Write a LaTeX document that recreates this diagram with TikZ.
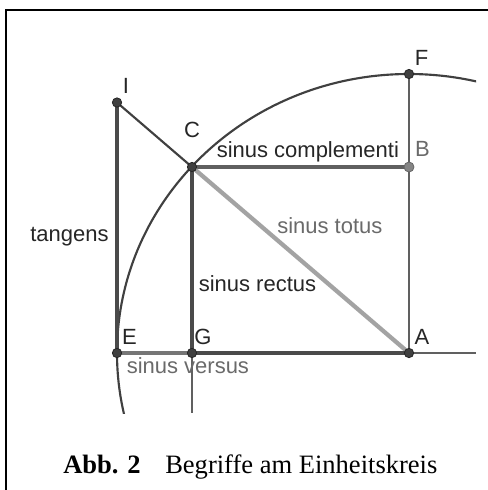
\documentclass[tikz,border=0pt]{standalone}
\usepackage{fontspec}
\setmainfont{Liberation Serif}
\newfontfamily\labfont{Liberation Sans}
\definecolor{arcc}{HTML}{404040}
\definecolor{darkseg}{HTML}{4A4A4A}
\definecolor{midseg}{HTML}{606060}
\definecolor{verseg}{HTML}{767676}
\definecolor{totseg}{HTML}{A3A3A3}
\definecolor{labc}{HTML}{262626}
\definecolor{labg}{HTML}{6A6A6A}
\definecolor{dotc}{HTML}{404040}
\definecolor{dotb}{HTML}{858585}
\begin{document}
\begin{tikzpicture}[x=0.75pt,y=-0.75pt,
  thinline/.style={draw=midseg, line width=1.6pt},
  arcline/.style={draw=arcc, line width=1.6pt},
  thickline/.style={line width=3.2pt},
  dotnode/.style={circle, fill=dotc, draw=black!85, line width=0.6pt, minimum size=7pt, inner sep=0pt},
  dotgray/.style={circle, fill=dotb, draw=black!60, line width=0.6pt, minimum size=7.5pt, inner sep=0pt},
  lab/.style={inner sep=0pt, font=\labfont\fontsize{16.5}{19}\selectfont, text=labc},
  labgray/.style={lab, text=labg},
  capt/.style={inner sep=0pt, font=\fontsize{19.9}{23}\selectfont, text=black}]
\useasboundingbox (0,0) rectangle (488,490);
% frame
\coordinate (FrBL) at (6,490);
\coordinate (FrTL) at (6,10);
\coordinate (FrTR) at (488,10);
\draw[line width=1.5pt, black] (FrBL) -- (FrTL) -- (FrTR);
% points
\coordinate (A) at (409,353);
\coordinate (E) at (117,353);
\coordinate (G) at (192,353);
\coordinate (C) at (192,167);
\coordinate (B) at (409,167);
\coordinate (F) at (409,74);
\coordinate (I) at (117,102.5);
\coordinate (Aright) at (476,353);
\coordinate (Gdown) at (192,413);
% arc (clipped)
\begin{scope}
  \clip (0,0) rectangle (476,413);
  \draw[arcline] (A) ellipse [x radius=292, y radius=279];
\end{scope}
% thin lines
\draw[thinline] (A) -- (F);
\draw[thinline] (A) -- (Aright);
\draw[thinline] (G) -- (Gdown);
\draw[arcline] (I) -- (C);
% thick segments
\draw[thickline, draw=verseg] (E) -- (G);
\draw[thickline, draw=midseg] (C) -- (B);
\draw[thickline, draw=totseg] (C) -- (A);
\draw[thickline, draw=darkseg] (E) -- (I);
\draw[thickline, draw=darkseg] (C) -- (G);
\draw[thickline, draw=darkseg] (G) -- (A);
% dots
\node[dotnode] (dA) at (A) {};
\node[dotnode] (dE) at (E) {};
\node[dotnode] (dG) at (G) {};
\node[dotnode] (dC) at (C) {};
\node[dotnode] (dF) at (F) {};
\node[dotnode] (dI) at (I) {};
\node[dotgray] (dB) at (B) {};
% point labels
\node[lab, anchor=base] (lI) at (126,93) {I};
\node[lab, anchor=base] (lC) at (192,137.5) {C};
\node[lab, anchor=base] (lF) at (421.5,65) {F};
\node[labgray, anchor=base] (lB) at (422.5,156) {B};
\node[lab, anchor=base] (lE) at (129.5,344) {E};
\node[lab, anchor=base] (lG) at (203,344) {G};
\node[lab, anchor=base] (lA) at (422,344) {A};
% segment labels
\node[lab, anchor=base west] (ltan) at (30,241) {tangens};
\node[lab, anchor=base west] (lcompl) at (216.5,157) {sinus complementi};
\node[labgray, anchor=base west] (ltot) at (277,233) {sinus totus};
\node[lab, anchor=base west] (lrect) at (198.5,291) {sinus rectus};
\node[labgray, anchor=base west] (lvers) at (126.5,373) {sinus versus};
% caption
\node[capt, anchor=base west] (cap1) at (63,473) {\textbf{Abb. 2}};
\node[capt, anchor=base west] (cap2) at (165,473) {Begriffe am Einheitskreis};
\end{tikzpicture}
\end{document}
